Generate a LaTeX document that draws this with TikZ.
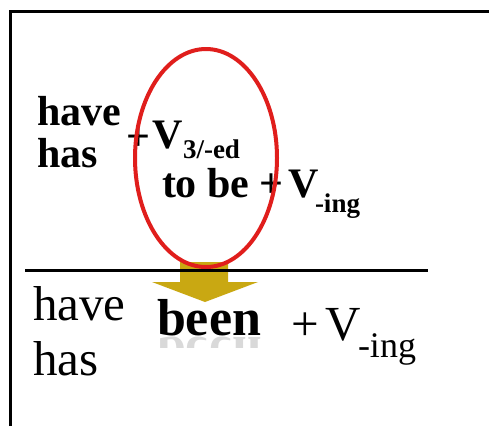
\documentclass[tikz,border=0pt]{standalone}
\usepackage{fontspec}
\setmainfont{Liberation Serif}
\definecolor{ovalred}{RGB}{224,30,28}
\definecolor{arrowgold}{RGB}{201,168,18}
\tikzset{
  txt/.style={inner sep=0pt, outer sep=0pt, anchor=base west, text=black},
  bigb/.style={txt, font=\fontsize{42}{42}\selectfont\bfseries},
  subb/.style={txt, font=\fontsize{27}{27}\selectfont\bfseries},
  bigr/.style={txt, font=\fontsize{49}{49}\selectfont},
  subr/.style={txt, font=\fontsize{36}{36}\selectfont},
  frame/.style={line width=3pt, black},
}
\begin{document}
\begin{tikzpicture}[x=1pt, y=-1pt]
\useasboundingbox (0,0) rectangle (489,426);
\fill[white] (0,0) rectangle (489,426);
% frame
\draw[frame] (10.5,426) -- (10.5,11) -- (489,11);
% top text
\node[bigb] (have1) at (37,125) {have};
\node[bigb] (has1) at (37,167) {has};
\node[bigb] (plus1) at (126,150) {+};
\node[bigb] (v1) at (152,148) {V};
\node[subb] (s1) at (183,158) {3/-ed};
\node[bigb] (tobe) at (162,197) {to be +};
\node[bigb] (v2) at (288,197) {V};
\node[subb] (s2) at (315,212) {-ing};
% arrow
\fill[arrowgold] (180,262) -- (228,262) -- (228,282) -- (258,282) -- (205,302) -- (152,282) -- (180,282) -- cycle;
% rule
\draw[line width=3pt] (25,270) -- (428,270);
% oval
\draw[ovalred, line width=4pt] (206,158) ellipse [x radius=71, y radius=109];
% bottom text
\node[bigr] (have2) at (33,320) {have};
\node[bigr] (has2) at (33,375) {has};
\begin{scope}
\clip (150,336) rectangle (275,347);
\node[txt, font=\fontsize{52}{52}\selectfont\bfseries, text=black!15, yscale=-1, transform shape] (beenrefl) at (157,337) {been};
\end{scope}
\node[txt, font=\fontsize{52}{52}\selectfont\bfseries] (been) at (157,335) {been};
\node[bigr] (plus2) at (291,340) {+};
\node[bigr] (v3) at (325,340) {V};
\node[subr] (s3) at (358,357) {-ing};
\end{tikzpicture}
\end{document}
